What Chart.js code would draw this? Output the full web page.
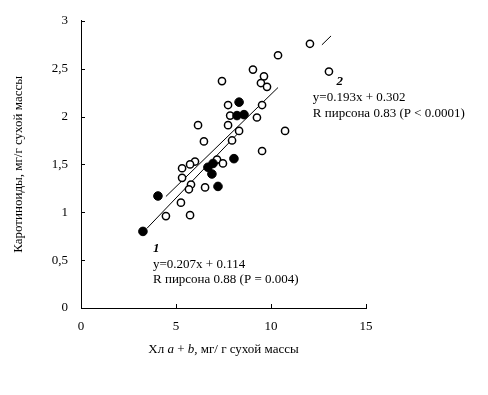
<!DOCTYPE html>
<html><head><meta charset="utf-8">
<script src="https://cdn.jsdelivr.net/npm/chart.js@4/dist/chart.umd.min.js"></script>
<style>html,body{margin:0;padding:0;background:#fff;}</style>
</head><body>
<canvas id="c" width="488" height="395"></canvas>
<script>
// Group 2 (open circles)
const openX = [12.05,13.05,10.37,9.05,9.63,9.47,9.79,7.42,9.53,7.74,7.85,9.26,7.74,6.16,8.32,10.74,6.47,7.95,9.53,7.16,7.47,6.00,5.74,5.32,5.32,5.79,5.68,6.53,5.26,4.47,5.74];
const openY = [2.76,2.47,2.64,2.49,2.42,2.35,2.31,2.37,2.12,2.12,2.01,1.99,1.91,1.91,1.85,1.85,1.74,1.75,1.64,1.55,1.51,1.53,1.50,1.46,1.36,1.29,1.24,1.26,1.10,0.96,0.97];
// Group 1 (filled circles)
const filledX = [3.26,4.05,7.21,6.89,6.68,6.95,8.05,8.32,8.21,8.58];
const filledY = [0.80,1.17,1.27,1.40,1.47,1.51,1.56,2.15,2.01,2.02];
// Regression lines (endpoints)
const line1X = [3.47,8.42];
const line1Y = [0.832,1.857];
const line2X = [4.47,10.37,11.5,12.68,13.16];
const line2Y = [1.165,2.303,null,2.749,2.842];
// Axis ticks
const xTicks = [0,5,10,15];
const yTicks = [0,0.5,1,1.5,2,2.5,3];
const yTickLabels = ['0','0,5','1','1,5','2','2,5','3'];
// Texts
const yTitle = 'Каротиноиды, мг/г сухой массы';
const xTitleParts = [['Хл ',false],['a',true],[' + ',false],['b',true],[', мг/ г сухой массы',false]];
const ann1 = {label:'1', eq:'y=0.207x + 0.114', r:'R пирсона 0.88 (P = 0.004)', x:3.79, yl:0.62, ye:0.45, yr:0.295};
const ann2 = {label:'2', eq:'y=0.193x + 0.302', r:'R пирсона 0.83 (P < 0.0001)', x:12.2, lx:13.45, yl:2.36, ye:2.2, yr:2.035};

const toPts = (xs, ys) => xs.map((v,i)=>({x:v, y:ys[i]}));
const FONT = '"Liberation Serif","Times New Roman",serif';
const FS = 13;

const annot = {
  id:'annot',
  afterDraw(chart){
    const {ctx, chartArea:ca, scales:{x,y}} = chart;
    ctx.save();
    ctx.strokeStyle='#000'; ctx.lineWidth=1;
    y.ticks.forEach((t,i)=>{const p=Math.round(y.getPixelForTick(i))+0.5; ctx.beginPath(); ctx.moveTo(ca.left,p); ctx.lineTo(ca.left+4,p); ctx.stroke();});
    x.ticks.forEach((t,i)=>{const p=Math.round(x.getPixelForTick(i))+0.5; ctx.beginPath(); ctx.moveTo(p,ca.bottom); ctx.lineTo(p,ca.bottom-4); ctx.stroke();});
    ctx.fillStyle='#000'; ctx.textBaseline='middle'; ctx.textAlign='left';
    // group 1
    ctx.font='italic bold '+FS+'px '+FONT;
    ctx.fillText(ann1.label, x.getPixelForValue(ann1.x), y.getPixelForValue(ann1.yl));
    ctx.font=FS+'px '+FONT;
    ctx.fillText(ann1.eq, x.getPixelForValue(ann1.x), y.getPixelForValue(ann1.ye));
    ctx.fillText(ann1.r, x.getPixelForValue(ann1.x), y.getPixelForValue(ann1.yr));
    // group 2
    ctx.font='italic bold '+FS+'px '+FONT;
    ctx.fillText(ann2.label, x.getPixelForValue(ann2.lx), y.getPixelForValue(ann2.yl));
    ctx.font=FS+'px '+FONT;
    ctx.fillText(ann2.eq, x.getPixelForValue(ann2.x), y.getPixelForValue(ann2.ye));
    ctx.fillText(ann2.r, x.getPixelForValue(ann2.x), y.getPixelForValue(ann2.yr));
    // x title with italics
    let total=0;
    xTitleParts.forEach(([t,it])=>{ctx.font=(it?'italic ':'')+FS+'px '+FONT; total+=ctx.measureText(t).width;});
    let cx=(ca.left+ca.right)/2 - total/2; const ty=ca.bottom+42;
    xTitleParts.forEach(([t,it])=>{ctx.font=(it?'italic ':'')+FS+'px '+FONT; ctx.fillText(t,cx,ty); cx+=ctx.measureText(t).width;});
    ctx.restore();
  }
};

new Chart(document.getElementById('c'), {
  type:'scatter',
  data:{datasets:[
    {data:toPts(line1X,line1Y), showLine:true, borderColor:'#000', borderWidth:1, pointRadius:0, order:2, spanGaps:false},
    {data:toPts(line2X,line2Y), showLine:true, borderColor:'#000', borderWidth:1, pointRadius:0, order:2, spanGaps:false},
    {data:toPts(openX,openY), pointRadius:3.6, pointBorderWidth:1.5, pointBorderColor:'#000', pointBackgroundColor:'#fff', order:1},
    {data:toPts(filledX,filledY), pointRadius:4.3, pointBorderWidth:1, pointBorderColor:'#000', pointBackgroundColor:'#000', order:0}
  ]},
  options:{
    responsive:false, animation:false, devicePixelRatio:1,
    layout:{padding:{left:0,right:122,top:16,bottom:0}},
    plugins:{legend:{display:false}, tooltip:{enabled:false}},
    scales:{
      x:{type:'linear', min:0, max:15,
        afterBuildTicks:s=>{s.ticks=xTicks.map(v=>({value:v}));},
        afterFit:s=>{s.height=87;},
        grid:{display:true, drawOnChartArea:false, drawTicks:false},
        border:{display:true, color:'#000', width:1},
        ticks:{color:'#000', padding:11, font:{family:FONT, size:FS}, maxRotation:0, callback:v=>String(v)}
      },
      y:{type:'linear', min:0, max:3,
        afterBuildTicks:s=>{s.ticks=yTicks.map(v=>({value:v}));},
        afterFit:s=>{s.width=81;},
        grid:{display:true, drawOnChartArea:false, drawTicks:false},
        border:{display:true, color:'#000', width:1},
        ticks:{color:'#000', padding:13, font:{family:FONT, size:FS}, callback:(v)=>yTickLabels[yTicks.indexOf(v)]},
        title:{display:true, text:yTitle, color:'#000', font:{family:FONT, size:FS}, padding:{top:11,bottom:0}}
      }
    }
  },
  plugins:[annot]
});
</script>
</body></html>
